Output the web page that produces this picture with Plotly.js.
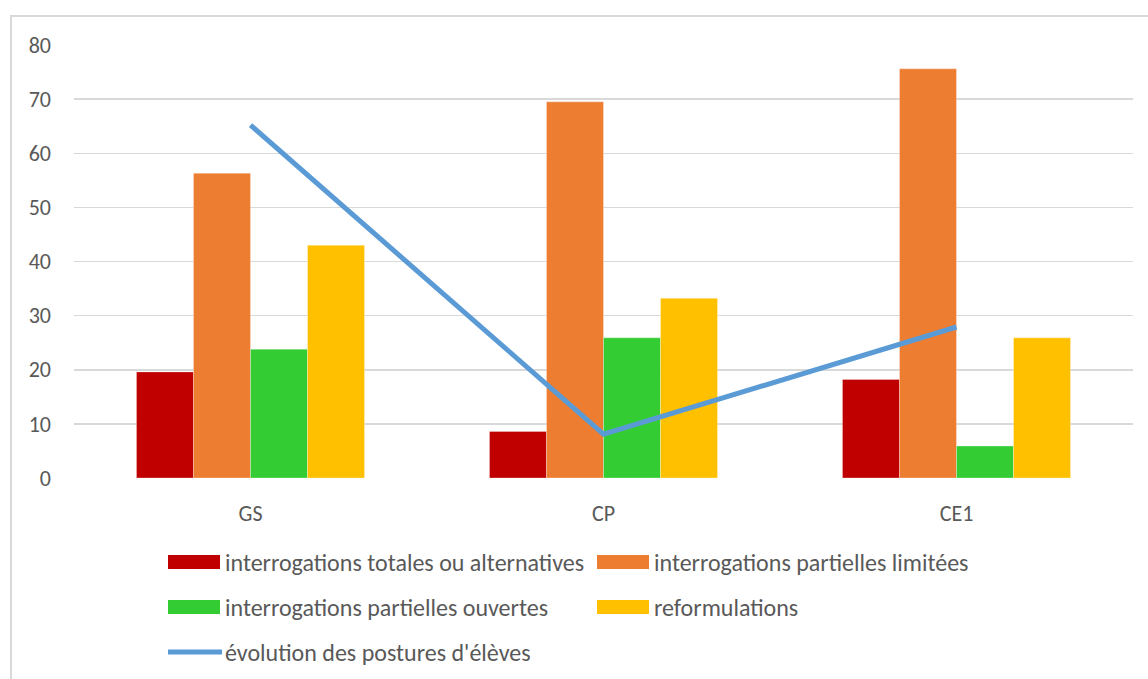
<!DOCTYPE html>
<html>
<head>
<meta charset="utf-8">
<script src="https://cdn.plot.ly/plotly-3.0.1.min.js"></script>
<style>
  html, body { margin: 0; padding: 0; background: #ffffff; overflow: hidden; }
  #frame { position: absolute; left: 10px; top: 15px; width: 1300px; height: 900px;
           border: 2px solid #d9d9d9; box-sizing: border-box; }
  #chart { position: absolute; left: 0; top: 0; width: 1148px; height: 679px; }
</style>
</head>
<body>
<div id="frame"></div>
<div id="chart"></div>
<script>
// ---- data ----
const categories = ["GS", "CP", "CE1"];
const seriesNames = [
  "interrogations totales ou alternatives",
  "interrogations partielles limitées",
  "interrogations partielles ouvertes",
  "reformulations"
];
const totalesAlternatives = [19.6, 8.6, 18.2];
const partiellesLimitees = [56.3, 69.5, 75.6];
const partiellesOuvertes = [23.8, 25.9, 5.9];
const reformulations = [43.0, 33.2, 25.9];
const lineName = "évolution des postures d'élèves";
const evolutionPostures = [65.2, 8.1, 27.9];
const yTicks = [0, 10, 20, 30, 40, 50, 60, 70, 80];

// ---- styles ----
const colors = ["#c00000", "#ed7d31", "#33cc33", "#ffc000"];
const lineColor = "#5b9bd5";
const textColor = "#595959";
const fontFamily = "Carlito, Lato, 'Liberation Sans', sans-serif";

const barValues = [totalesAlternatives, partiellesLimitees, partiellesOuvertes, reformulations];
const traces = barValues.map((vals, i) => ({
  type: "bar",
  x: categories,
  y: vals,
  name: seriesNames[i],
  marker: { color: colors[i], line: { width: 0.6, color: "rgba(255,255,255,0.5)" } },
  showlegend: false,
  hoverinfo: "x+y+name"
}));
traces.push({
  type: "scatter",
  mode: "lines",
  x: categories,
  y: evolutionPostures,
  name: lineName,
  line: { color: lineColor, width: 5 },
  showlegend: false
});

// plot area in pixels
const W = 1148, H = 679;
const mL = 74, mR = 15, mT = 45, mB = 201;
const pw = W - mL - mR, ph = H - mT - mB;
const px = x => (x - mL) / pw;
const py = y => (H - mB - y) / ph;

// manual legend (Excel style swatches)
const legendEntries = [
  { label: seriesNames[0], color: colors[0], kind: "bar", x: 168, y: 562 },
  { label: seriesNames[1], color: colors[1], kind: "bar", x: 597, y: 562 },
  { label: seriesNames[2], color: colors[2], kind: "bar", x: 168, y: 607 },
  { label: seriesNames[3], color: colors[3], kind: "bar", x: 597, y: 607 },
  { label: lineName, color: lineColor, kind: "line", x: 168, y: 652 }
];
const shapes = [];
const annotations = [];
legendEntries.forEach(e => {
  if (e.kind === "bar") {
    shapes.push({ type: "rect", xref: "paper", yref: "paper",
      x0: px(e.x), x1: px(e.x + 52), y0: py(e.y + 7), y1: py(e.y - 7),
      fillcolor: e.color, line: { width: 0 } });
  } else {
    shapes.push({ type: "line", xref: "paper", yref: "paper",
      x0: px(e.x), x1: px(e.x + 54), y0: py(e.y), y1: py(e.y),
      line: { color: e.color, width: 5 } });
  }
  annotations.push({ xref: "paper", yref: "paper", x: px(e.x + 55), y: py(e.y),
    xanchor: "left", yanchor: "middle", showarrow: false, text: e.label,
    font: { family: fontFamily, size: 24, color: textColor } });
});

const layout = {
  width: W, height: H,
  margin: { l: mL, r: mR, t: mT, b: mB, pad: 0 },
  paper_bgcolor: "rgba(0,0,0,0)",
  plot_bgcolor: "rgba(0,0,0,0)",
  barmode: "group",
  bargap: 0.354,
  bargroupgap: 0,
  showlegend: false,
  font: { family: fontFamily, color: textColor },
  xaxis: {
    type: "category",
    showgrid: false, zeroline: false, showline: false,
    ticks: "", ticklabelstandoff: 20,
    tickfont: { family: fontFamily, size: 22, color: textColor }
  },
  yaxis: {
    range: [0, 80],
    tickvals: yTicks,
    showgrid: true, gridcolor: "#d9d9d9", gridwidth: 1.5,
    zeroline: false, showline: false,
    ticks: "", ticklabelstandoff: 22,
    tickfont: { family: fontFamily, size: 22, color: textColor }
  },
  shapes: shapes,
  annotations: annotations
};

Plotly.newPlot("chart", traces, layout, { displayModeBar: false, staticPlot: true });
</script>
</body>
</html>
